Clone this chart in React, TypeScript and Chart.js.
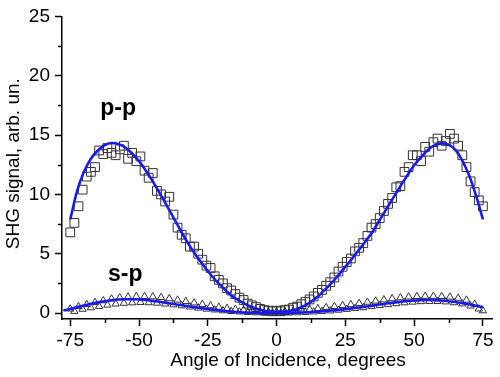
import React, { useEffect, useRef } from "react";
import { Chart, registerables } from "chart.js";

Chart.register(...registerables);

// Measurement angles (degrees) shared by both scans
const scanAngles = [
  -75, -73.5, -72, -70.5, -69, -67.5, -66, -64.5, -63, -61.5,
  -60, -58.5, -57, -55.5, -54, -52.5, -51, -49.5, -48, -46.5,
  -45, -43.5, -42, -40.5, -39, -37.5, -36, -34.5, -33, -31.5,
  -30, -28.5, -27, -25.5, -24, -22.5, -21, -19.5, -18, -16.5,
  -15, -13.5, -12, -10.5, -9, -7.5, -6, -4.5, -3, -1.5,
  0, 1.5, 3, 4.5, 6, 7.5, 9, 10.5, 12, 13.5,
  15, 16.5, 18, 19.5, 21, 22.5, 24, 25.5, 27, 28.5,
  30, 31.5, 33, 34.5, 36, 37.5, 39, 40.5, 42, 43.5,
  45, 46.5, 48, 49.5, 51, 52.5, 54, 55.5, 57, 58.5,
  60, 61.5, 63, 64.5, 66, 67.5, 69, 70.5, 72, 73.5, 75,
];

// p-p measured SHG signal (squares)
const ppSignal = [
  6.8, 7.6, 9.0, 10.4, 11.5, 11.9, 12.3, 13.7, 13.4, 13.9,
  13.5, 13.3, 13.8, 14.1, 13.0, 13.5, 12.8, 13.2, 12.0, 11.4,
  11.8, 10.3, 10.0, 9.4, 9.8, 8.3, 7.2, 6.6, 6.3, 5.6,
  5.6, 5.0, 4.5, 4.0, 3.8, 3.1, 2.8, 2.5, 2.1, 1.9,
  1.6, 1.3, 1.1, 0.8, 0.65, 0.5, 0.35, 0.25, 0.2, 0.15,
  0.2, 0.15, 0.25, 0.3, 0.45, 0.55, 0.75, 0.95, 1.15, 1.4,
  1.7, 1.95, 2.3, 2.6, 3.0, 3.5, 3.9, 4.3, 4.6, 5.2,
  5.5, 5.9, 6.5, 7.2, 7.5, 8.0, 8.6, 9.2, 9.7, 10.6,
  10.7, 11.9, 12.3, 13.3, 13.3, 12.8, 14.0, 13.6, 14.4, 14.7,
  14.1, 14.5, 15.1, 14.7, 14.1, 13.3, 12.3, 11.1, 10.2, 9.5, 9.0,
];

// s-p measured SHG signal (triangles)
const spSignal = [
  0.35, 0.15, 0.55, 0.33, 0.72, 0.45, 0.9, 0.57, 1.05, 0.68,
  1.2, 0.77, 1.3, 0.83, 1.36, 0.87, 1.4, 0.9, 1.4, 0.88,
  1.38, 0.84, 1.32, 0.77, 1.22, 0.7, 1.1, 0.62, 0.98, 0.52,
  0.86, 0.43, 0.74, 0.34, 0.62, 0.27, 0.5, 0.2, 0.4, 0.14,
  0.32, 0.1, 0.25, 0.06, 0.18, 0.03, 0.13, 0.0, 0.1, 0.0,
  0.1, 0.0, 0.12, 0.01, 0.16, 0.03, 0.22, 0.06, 0.3, 0.1,
  0.38, 0.14, 0.47, 0.19, 0.56, 0.25, 0.64, 0.32, 0.72, 0.39,
  0.82, 0.46, 0.92, 0.55, 1.02, 0.64, 1.12, 0.72, 1.22, 0.8,
  1.3, 0.87, 1.36, 0.93, 1.4, 0.97, 1.42, 0.99, 1.42, 0.98,
  1.4, 0.95, 1.35, 0.88, 1.26, 0.78, 1.1, 0.6, 0.75, 0.35, 0.2,
];

// Fit curves
const ppFitAngles = [
  -75, -72.5, -70, -67.5, -65, -62.5, -60, -57.5, -55, -52.5,
  -50, -47.5, -45, -42.5, -40, -37.5, -35, -32.5, -30, -27.5,
  -25, -22.5, -20, -17.5, -15, -12.5, -10, -7.5, -5, -2.5,
  0, 2.5, 5, 7.5, 10, 12.5, 15, 17.5, 20, 22.5,
  25, 27.5, 30, 32.5, 35, 37.5, 40, 42.5, 45, 47.5,
  50, 52.5, 55, 57.5, 60, 62.5, 65, 67.5, 70, 72.5, 75,
];
const ppFitSignal = [
  7.9, 10.3, 11.9, 13.0, 13.7, 14.15, 14.33, 14.25, 13.95, 13.45,
  12.8, 12.0, 11.1, 10.1, 9.1, 8.05, 7.0, 6.0, 5.1, 4.3,
  3.55, 2.85, 2.25, 1.7, 1.25, 0.9, 0.6, 0.38, 0.22, 0.12,
  0.1, 0.12, 0.2, 0.35, 0.6, 0.95, 1.4, 1.95, 2.55, 3.2,
  3.9, 4.6, 5.35, 6.1, 6.9, 7.85, 8.8, 9.75, 10.7, 11.6,
  12.45, 13.15, 13.75, 14.15, 14.3, 14.2, 13.75, 12.85, 11.6, 9.9, 7.9,
];
const spFitAngles = [
  -77.5, -75, -72.5, -70, -67.5, -65, -62.5, -60, -57.5, -55,
  -52.5, -50, -47.5, -45, -42.5, -40, -37.5, -35, -32.5, -30,
  -27.5, -25, -22.5, -20, -17.5, -15, -12.5, -10, -7.5, -5,
  -2.5, 0, 2.5, 5, 7.5, 10, 12.5, 15, 17.5, 20,
  22.5, 25, 27.5, 30, 32.5, 35, 37.5, 40, 42.5, 45,
  47.5, 50, 52.5, 55, 57.5, 60, 62.5, 65, 67.5, 70, 72.5, 75,
];
const spFitSignal = [
  0.22, 0.35, 0.5, 0.64, 0.78, 0.9, 1.0, 1.08, 1.14, 1.17,
  1.17, 1.15, 1.1, 1.03, 0.95, 0.86, 0.77, 0.68, 0.59, 0.5,
  0.42, 0.34, 0.27, 0.2, 0.14, 0.09, 0.05, 0.03, 0.01, 0,
  0, 0, 0, 0.01, 0.03, 0.05, 0.08, 0.12, 0.16, 0.21,
  0.27, 0.33, 0.4, 0.47, 0.55, 0.63, 0.72, 0.8, 0.88, 0.95,
  1.01, 1.06, 1.09, 1.1, 1.09, 1.06, 1.0, 0.93, 0.84, 0.74, 0.62, 0.5,
];

const xTicks = [-75, -50, -25, 0, 25, 50, 75];
const xMinorTicks = [-62.5, -37.5, -12.5, 12.5, 37.5, 62.5];
const yTicks = [0, 5, 10, 15, 20, 25];
const yMinorTicks = [2.5, 7.5, 12.5, 17.5, 22.5];

const xTitle = "Angle of Incidence, degrees";
const yTitle = "SHG signal, arb. un.";
const curveLabels = ["p-p", "s-p"];
const curveLabelX = [-57.6, -55.0];
const curveLabelY = [16.67, 2.67];

const FONT = '"Liberation Sans", Arial, sans-serif';

const toPoints = (xs: number[], ys: number[]) => xs.map((x, i) => ({ x, y: ys[i] }));

const decorPlugin = {
  id: "decor",
  afterDraw(chart: any) {
    const ctx = chart.ctx as CanvasRenderingContext2D;
    const xs = chart.scales.x;
    const ys = chart.scales.y;
    const area = chart.chartArea;
    ctx.save();
    ctx.strokeStyle = "#000";
    ctx.lineWidth = 1.5;
    xMinorTicks.forEach((v) => {
      const px = Math.round(xs.getPixelForValue(v)) + 0.5;
      ctx.beginPath();
      ctx.moveTo(px, area.bottom);
      ctx.lineTo(px, area.bottom + 4);
      ctx.stroke();
    });
    yMinorTicks.forEach((v) => {
      const py = Math.round(ys.getPixelForValue(v)) + 0.5;
      ctx.beginPath();
      ctx.moveTo(area.left, py);
      ctx.lineTo(area.left - 4, py);
      ctx.stroke();
    });
    ctx.fillStyle = "#000";
    ctx.font = `19px ${FONT}`;
    ctx.textAlign = "center";
    ctx.textBaseline = "alphabetic";
    ctx.fillText(xTitle, (area.left + area.right) / 2 + 11, 366);
    ctx.save();
    ctx.translate(19, (area.top + area.bottom) / 2 - 4);
    ctx.rotate(-Math.PI / 2);
    ctx.fillText(yTitle, 0, 0);
    ctx.restore();
    ctx.font = `bold 23px ${FONT}`;
    curveLabels.forEach((t, i) => {
      ctx.fillText(t, xs.getPixelForValue(curveLabelX[i]), ys.getPixelForValue(curveLabelY[i]));
    });
    ctx.restore();
  },
};

export default function App() {
  const ref = useRef<HTMLCanvasElement>(null);
  useEffect(() => {
    document.body.style.margin = "0";
    const canvas = ref.current!;
    const chart = new Chart(canvas, {
      type: "scatter",
      data: {
        datasets: [
          {
            label: "p-p fit",
            data: toPoints(ppFitAngles, ppFitSignal),
            showLine: true,
            borderColor: "#1a1aee",
            borderWidth: 2.6,
            pointRadius: 0,
            cubicInterpolationMode: "monotone",
            order: 0,
            clip: false,
          },
          {
            label: "s-p fit",
            data: toPoints(spFitAngles, spFitSignal),
            showLine: true,
            borderColor: "#1a1aee",
            borderWidth: 2.6,
            pointRadius: 0,
            cubicInterpolationMode: "monotone",
            order: 0,
            clip: false,
          },
          {
            label: "p-p",
            data: toPoints(scanAngles, ppSignal),
            pointStyle: "rect",
            pointRadius: 6.2,
            borderColor: "#333",
            borderWidth: 1,
            backgroundColor: "rgba(0,0,0,0)",
            order: 1,
            clip: false,
          },
          {
            label: "s-p",
            data: toPoints(scanAngles, spSignal),
            pointStyle: "triangle",
            pointRadius: 4.2,
            borderColor: "#333",
            borderWidth: 1,
            backgroundColor: "rgba(0,0,0,0)",
            order: 1,
            clip: false,
          },
        ] as any,
      },
      options: {
        animation: false,
        responsive: false,
        maintainAspectRatio: false,
        layout: { padding: { top: 13, right: 8, left: 0, bottom: 0 } },
        plugins: { legend: { display: false }, tooltip: { enabled: false } },
        scales: {
          x: {
            type: "linear",
            min: -78,
            max: 78.3,
            afterBuildTicks: (s: any) => {
              s.ticks = xTicks.map((v) => ({ value: v }));
            },
            afterFit: (s: any) => {
              s.height = 58;
            },
            grid: {
              drawOnChartArea: false,
              drawTicks: true,
              tickLength: 7,
              tickWidth: 1.5,
              tickColor: "#000",
            },
            border: { display: true, color: "#000", width: 1.5 },
            ticks: {
              color: "#000",
              font: { family: FONT, size: 19 },
              padding: 3,
              maxRotation: 0,
              autoSkip: false,
            },
          },
          y: {
            type: "linear",
            min: -0.5,
            max: 25,
            afterBuildTicks: (s: any) => {
              s.ticks = yTicks.map((v) => ({ value: v }));
            },
            afterFit: (s: any) => {
              s.width = 62;
            },
            grid: {
              drawOnChartArea: false,
              drawTicks: true,
              tickLength: 7,
              tickWidth: 1.5,
              tickColor: "#000",
            },
            border: { display: true, color: "#000", width: 1.5 },
            ticks: {
              color: "#000",
              font: { family: FONT, size: 19 },
              padding: 5,
              autoSkip: false,
            },
          },
        },
      } as any,
      plugins: [decorPlugin],
    });
    return () => chart.destroy();
  }, []);
  return (
    <div style={{ width: 500, height: 377 }}>
      <canvas ref={ref} width={500} height={377} style={{ display: "block" }} />
    </div>
  );
}
